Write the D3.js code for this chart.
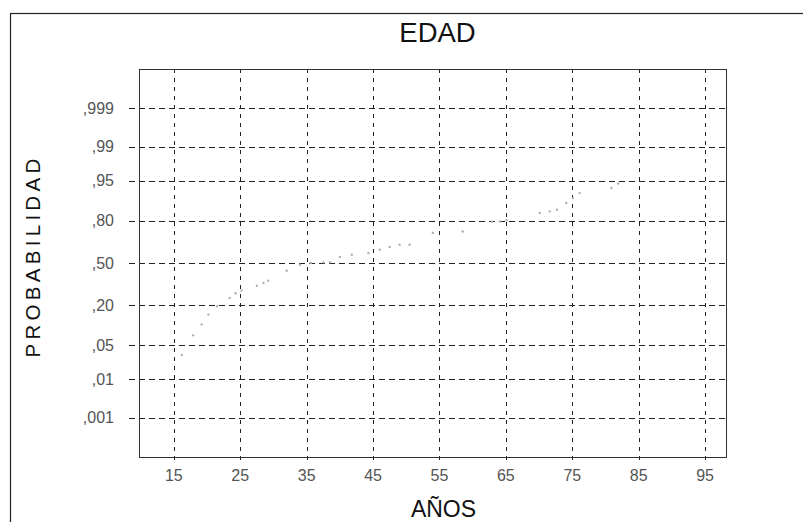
<!DOCTYPE html>
<html><head><meta charset="utf-8">
<script src="https://cdn.jsdelivr.net/npm/d3@7"></script>
<style>
html,body{margin:0;padding:0;background:#fff;}
svg{display:block;font-family:"Liberation Sans",Arial,sans-serif;}
</style></head>
<body>
<svg id="chart" width="803" height="522"></svg>
<script>
// ---- data ----
const title = "EDAD";
const xLabel = "AÑOS";
const yLabel = "PROBABILIDAD";
const xTicks = [15, 25, 35, 45, 55, 65, 75, 85, 95];
const yTicks = [0.001, 0.01, 0.05, 0.20, 0.50, 0.80, 0.95, 0.99, 0.999];
const yTickLabels = [",001", ",01", ",05", ",20", ",50", ",80", ",95", ",99", ",999"];
const ages = [16.2, 17.9, 19.2, 20.2, 21.5, 23.4, 24.3, 25.2, 27.5, 28.5, 29.2, 32.0, 34.0, 35.6, 37.5, 38.5, 40.0, 41.8, 44.3, 46.0, 47.5, 49.0, 50.5, 54.0, 58.5, 62.9, 64.1, 65.1, 70.1, 71.6, 72.7, 74.1, 75.1, 76.1, 80.9, 81.9];
const probs = [0.033, 0.074, 0.110, 0.151, 0.193, 0.242, 0.273, 0.292, 0.325, 0.345, 0.362, 0.439, 0.486, 0.500, 0.505, 0.505, 0.548, 0.566, 0.579, 0.605, 0.626, 0.643, 0.643, 0.726, 0.736, 0.796, 0.797, 0.804, 0.841, 0.849, 0.857, 0.885, 0.903, 0.919, 0.933, 0.944];

// inverse standard normal CDF (Acklam)
function probit(p){
  const a=[-3.969683028665376e+01,2.209460984245205e+02,-2.759285104469687e+02,1.383577518672690e+02,-3.066479806614716e+01,2.506628277459239e+00];
  const b=[-5.447609879822406e+01,1.615858368580409e+02,-1.556989798598866e+02,6.680131188771972e+01,-1.328068155288572e+01];
  const c=[-7.784894002430293e-03,-3.223964580411365e-01,-2.400758277161838e+00,-2.549732539343734e+00,4.374664141464968e+00,2.938163982698783e+00];
  const d=[7.784695709041462e-03,3.224671290700398e-01,2.445134137142996e+00,3.754408661907416e+00];
  const pl=0.02425, ph=1-pl;
  let q,r;
  if(p<pl){q=Math.sqrt(-2*Math.log(p));return (((((c[0]*q+c[1])*q+c[2])*q+c[3])*q+c[4])*q+c[5])/((((d[0]*q+d[1])*q+d[2])*q+d[3])*q+1);}
  if(p<=ph){q=p-0.5;r=q*q;return (((((a[0]*r+a[1])*r+a[2])*r+a[3])*r+a[4])*r+a[5])*q/(((((b[0]*r+b[1])*r+b[2])*r+b[3])*r+b[4])*r+1);}
  q=Math.sqrt(-2*Math.log(1-p));return -(((((c[0]*q+c[1])*q+c[2])*q+c[3])*q+c[4])*q+c[5])/((((d[0]*q+d[1])*q+d[2])*q+d[3])*q+1);
}

const svg = d3.select("#chart");
const L=139, R=726, T=69, B=457;
const x = d3.scaleLinear().domain([9.75, 98.15]).range([L, R]);
const z = d3.scaleLinear().domain([-3.88, 3.88]).range([B, T]);
const y = p => z(probit(p));

// outer frame
svg.append("rect").attr("x",10.5).attr("y",13.5).attr("width",820).attr("height",530)
  .attr("fill","none").attr("stroke","#222").attr("stroke-width",1.2);

// title
svg.append("text").attr("x",437.5).attr("y",42).attr("text-anchor","middle")
  .attr("font-size",27.5).attr("fill","#111").text(title);

// grid
const g = svg.append("g");
g.selectAll("line.h").data(yTicks).join("line").attr("class","h")
  .attr("x1",L-10).attr("x2",R).attr("y1",d=>Math.round(y(d))+0.5).attr("y2",d=>Math.round(y(d))+0.5)
  .attr("stroke","#222").attr("stroke-width",1).attr("stroke-dasharray","6,4");
g.selectAll("line.v").data(xTicks).join("line").attr("class","v")
  .attr("y1",T).attr("y2",B+4).attr("x1",d=>Math.round(x(d))+0.5).attr("x2",d=>Math.round(x(d))+0.5)
  .attr("stroke","#222").attr("stroke-width",1).attr("stroke-dasharray","4,5");

// plot frame
svg.append("rect").attr("x",L+0.5).attr("y",T+0.5).attr("width",R-L).attr("height",B-T)
  .attr("fill","none").attr("stroke","#333").attr("stroke-width",1);

// tick labels
svg.append("g").selectAll("text").data(yTicks).join("text")
  .attr("x",114).attr("y",d=>y(d)+5.5).attr("text-anchor","end")
  .attr("font-size",16).attr("fill","#555").text((d,i)=>yTickLabels[i]);
svg.append("g").selectAll("text").data(xTicks).join("text")
  .attr("x",d=>x(d)).attr("y",481).attr("text-anchor","middle")
  .attr("font-size",16).attr("fill","#555").text(d=>d);

// axis titles
svg.append("text").attr("x",443.5).attr("y",517).attr("text-anchor","middle")
  .attr("font-size",23).attr("fill","#111").text(xLabel);
svg.append("text").attr("transform","translate(40,256) rotate(-90)").attr("text-anchor","middle")
  .attr("font-size",20.5).attr("letter-spacing","4.3px").attr("fill","#111").text(yLabel);

// data points
svg.append("g").selectAll("circle").data(ages).join("circle")
  .attr("cx",d=>x(d)).attr("cy",(d,i)=>y(probs[i])).attr("r",1.2)
  .attr("fill","#b0b0b0");
</script>
</body></html>
